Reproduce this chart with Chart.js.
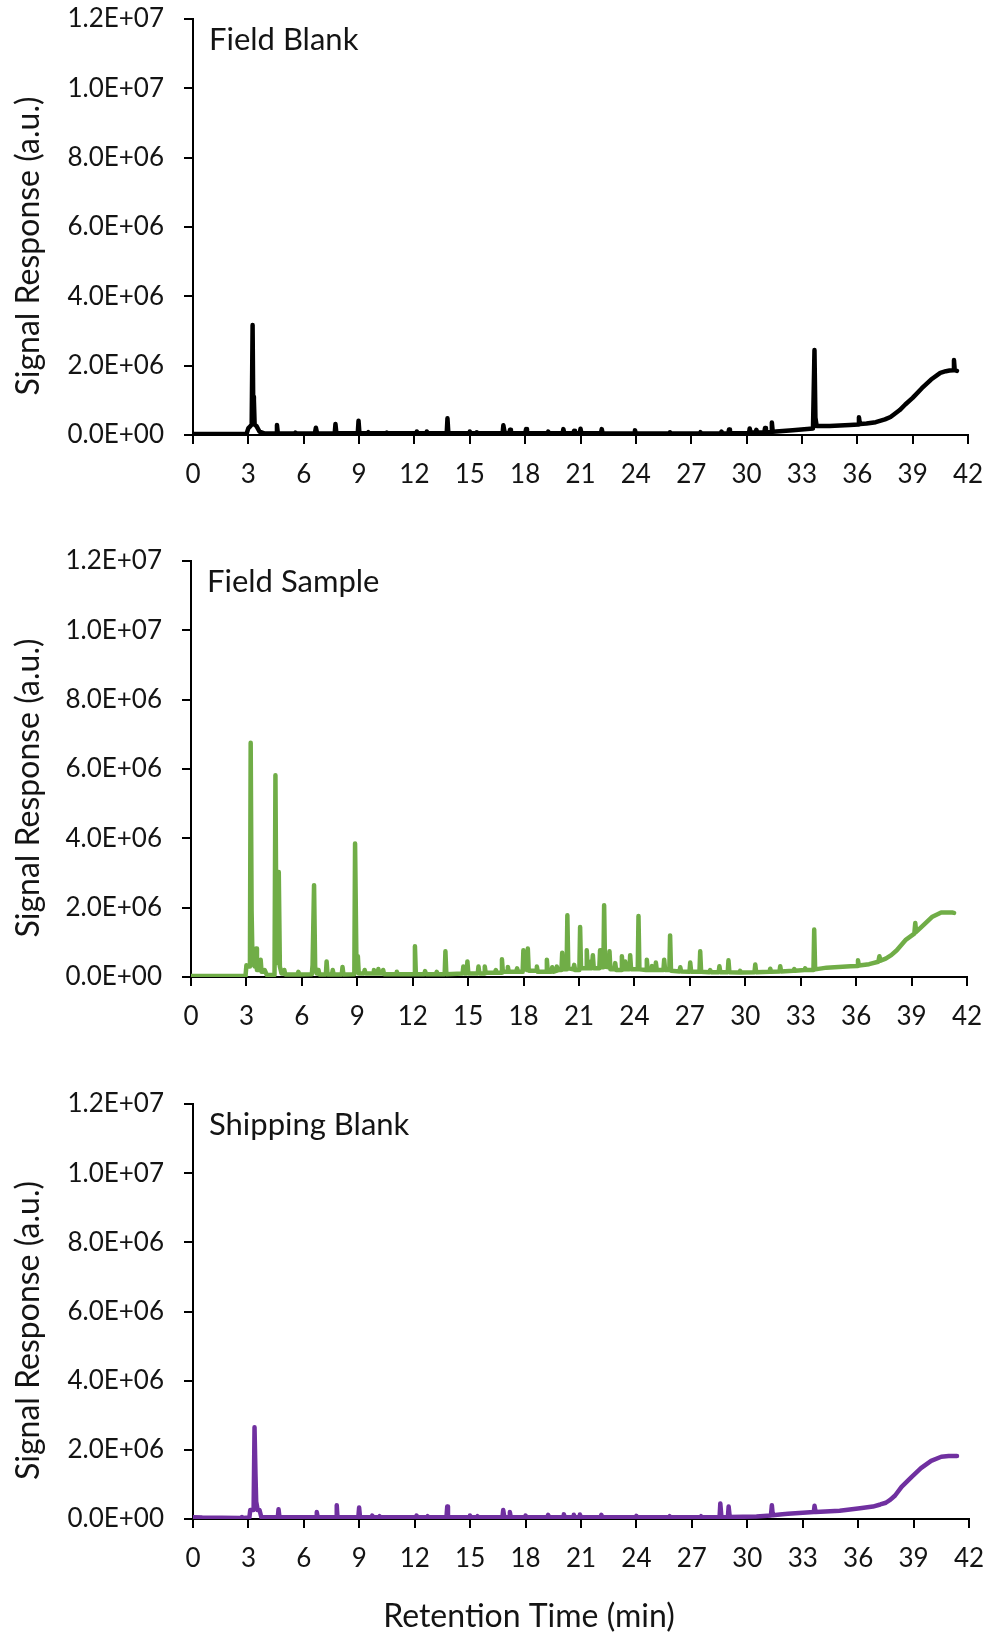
<!DOCTYPE html>
<html>
<head>
<meta charset="utf-8">
<script src="https://cdn.jsdelivr.net/npm/chart.js@4.4.1/dist/chart.umd.min.js"></script>
<style>
html, body { margin: 0; padding: 0; background: #ffffff; }
#wrap { position: relative; width: 989px; height: 1638px; overflow: hidden; background: #ffffff; }
.panel { position: absolute; left: 0; width: 989px; }
canvas { display: block; }
</style>
</head>
<body>
<div id="wrap">
  <div class="panel" style="top:0px;height:520px"><canvas id="c1" width="989" height="520"></canvas></div>
  <div class="panel" style="top:520px;height:520px"><canvas id="c2" width="989" height="520"></canvas></div>
  <div class="panel" style="top:1040px;height:598px"><canvas id="c3" width="989" height="598"></canvas></div>
</div>
<script>
// ---------------- DATA ----------------
const xTickValues = [0, 3, 6, 9, 12, 15, 18, 21, 24, 27, 30, 33, 36, 39, 42];
const yTickValues = [0, 2e6, 4e6, 6e6, 8e6, 10e6, 12e6];
const panelNames = ['Field Blank', 'Field Sample', 'Shipping Blank'];
const yAxisTitle = 'Signal Response (a.u.)';
const xAxisTitle = 'Retention Time (min)';

// [retention time (min), signal (a.u.)]
const fieldBlank = [
  [0,0.03e6],[2.9,0.03e6],[3.0,0.2e6],[3.1,0.25e6],[3.18,0.3e6],[3.23,3.17e6],[3.26,1.1e6],[3.3,1.0e6],
  [3.34,0.3e6],[3.45,0.25e6],[3.6,0.1e6],[3.9,0.04e6],
  [4.51,0.04e6],[4.55,0.29e6],[4.6,0.04e6],
  [5.51,0.04e6],[5.55,0.07e6],[5.6,0.04e6],
  [6.6,0.04e6],[6.66,0.21e6],[6.73,0.04e6],
  [7.68,0.04e6],[7.72,0.32e6],[7.77,0.05e6],
  [8.93,0.05e6],[8.97,0.41e6],[9.02,0.05e6],
  [9.45,0.05e6],[9.5,0.08e6],[9.55,0.05e6],
  [10.45,0.05e6],[10.5,0.07e6],[10.55,0.05e6],
  [12.09,0.05e6],[12.13,0.1e6],[12.18,0.05e6],
  [12.63,0.05e6],[12.67,0.1e6],[12.72,0.05e6],
  [13.75,0.05e6],[13.79,0.48e6],[13.84,0.05e6],
  [14.96,0.05e6],[15.0,0.1e6],[15.05,0.05e6],
  [15.34,0.05e6],[15.38,0.08e6],[15.43,0.05e6],
  [16.78,0.05e6],[16.82,0.28e6],[16.88,0.1e6],[16.95,0.05e6],
  [17.14,0.05e6],[17.18,0.15e6],[17.23,0.05e6],
  [18.01,0.05e6],[18.05,0.17e6],[18.1,0.05e6],
  [19.21,0.05e6],[19.25,0.1e6],[19.3,0.05e6],
  [20.03,0.05e6],[20.07,0.17e6],[20.12,0.05e6],
  [20.61,0.05e6],[20.65,0.12e6],[20.7,0.05e6],
  [20.96,0.05e6],[21.0,0.18e6],[21.05,0.05e6],
  [22.11,0.05e6],[22.15,0.17e6],[22.2,0.05e6],
  [23.91,0.04e6],[23.95,0.14e6],[24.0,0.04e6],
  [25.81,0.04e6],[25.85,0.08e6],[25.9,0.04e6],
  [27.46,0.04e6],[27.5,0.08e6],[27.55,0.04e6],
  [28.6,0.04e6],[28.64,0.1e6],[28.69,0.04e6],
  [29.01,0.04e6],[29.05,0.16e6],[29.1,0.05e6],
  [30.13,0.05e6],[30.17,0.19e6],[30.22,0.07e6],
  [30.49,0.07e6],[30.53,0.15e6],[30.58,0.07e6],
  [30.96,0.07e6],[31.0,0.2e6],[31.05,0.08e6],
  [31.33,0.09e6],[31.37,0.36e6],[31.42,0.09e6],
  [31.6,0.1e6],[32.5,0.14e6],[33.6,0.19e6],[33.68,2.45e6],[33.73,0.5e6],[33.8,0.26e6],
  [34.5,0.26e6],[35.6,0.29e6],[36.05,0.3e6],[36.09,0.51e6],[36.14,0.32e6],[36.5,0.33e6],
  [37.0,0.37e6],[37.5,0.45e6],[37.8,0.52e6],[38.0,0.6e6],[38.3,0.72e6],[38.6,0.88e6],[39.0,1.07e6],
  [39.5,1.35e6],[40.0,1.6e6],[40.5,1.79e6],[40.8,1.84e6],[41.0,1.86e6],[41.2,1.87e6],
  [41.24,2.16e6],[41.28,1.87e6],[41.4,1.85e6]
];

const fieldSample = [
  [0,0.03e6],[2.95,0.03e6],[3.0,0.34e6],[3.1,0.3e6],[3.19,0.3e6],[3.23,6.76e6],[3.28,1.9e6],[3.33,0.4e6],
  [3.45,0.3e6],[3.49,0.3e6],[3.52,0.82e6],[3.57,0.2e6],[3.73,0.2e6],[3.77,0.5e6],[3.82,0.15e6],
  [3.95,0.15e6],[3.99,0.2e6],[4.1,0.06e6],
  [4.52,0.06e6],[4.57,5.82e6],[4.63,0.4e6],[4.7,0.5e6],[4.75,3.03e6],[4.81,0.3e6],[4.9,0.1e6],
  [5.01,0.1e6],[5.05,0.2e6],[5.1,0.07e6],
  [5.77,0.07e6],[5.81,0.15e6],[5.86,0.07e6],
  [6.54,0.08e6],[6.58,0.35e6],[6.66,2.65e6],[6.72,0.3e6],[6.8,0.1e6],[6.86,0.1e6],[6.9,0.2e6],[6.95,0.07e6],
  [7.3,0.07e6],[7.34,0.45e6],[7.39,0.07e6],
  [7.63,0.07e6],[7.67,0.2e6],[7.72,0.07e6],
  [8.16,0.07e6],[8.2,0.29e6],[8.25,0.07e6],
  [8.84,0.08e6],[8.88,3.85e6],[8.95,0.6e6],[9.03,0.6e6],[9.08,0.1e6],
  [9.36,0.1e6],[9.4,0.2e6],[9.45,0.1e6],
  [9.86,0.1e6],[9.9,0.2e6],[9.95,0.1e6],
  [10.1,0.1e6],[10.14,0.23e6],[10.19,0.1e6],
  [10.36,0.1e6],[10.4,0.2e6],[10.45,0.08e6],
  [11.1,0.08e6],[11.14,0.15e6],[11.19,0.08e6],
  [12.08,0.08e6],[12.12,0.89e6],[12.17,0.08e6],
  [12.63,0.08e6],[12.67,0.17e6],[12.72,0.08e6],
  [13.26,0.08e6],[13.3,0.15e6],[13.35,0.08e6],
  [13.73,0.08e6],[13.77,0.74e6],[13.82,0.08e6],
  [14.7,0.1e6],[14.74,0.3e6],[14.79,0.1e6],
  [14.92,0.1e6],[14.96,0.45e6],[15.01,0.1e6],
  [15.52,0.1e6],[15.56,0.3e6],[15.61,0.1e6],
  [15.86,0.1e6],[15.9,0.3e6],[15.95,0.12e6],
  [16.45,0.12e6],[16.5,0.2e6],[16.55,0.12e6],
  [16.79,0.12e6],[16.83,0.51e6],[16.88,0.15e6],
  [17.11,0.15e6],[17.15,0.29e6],[17.2,0.15e6],
  [17.6,0.15e6],[17.65,0.25e6],[17.7,0.15e6],
  [17.95,0.15e6],[17.99,0.77e6],[18.05,0.25e6],[18.19,0.2e6],[18.23,0.82e6],[18.28,0.18e6],
  [18.68,0.18e6],[18.72,0.3e6],[18.77,0.15e6],
  [19.22,0.15e6],[19.26,0.5e6],[19.31,0.15e6],
  [19.5,0.15e6],[19.55,0.28e6],[19.6,0.15e6],
  [19.76,0.18e6],[19.8,0.3e6],[19.85,0.2e6],
  [20.05,0.2e6],[20.09,0.7e6],[20.14,0.22e6],[20.33,0.22e6],[20.37,1.78e6],[20.42,0.25e6],
  [20.7,0.22e6],[20.74,0.35e6],[20.79,0.2e6],
  [21.02,0.2e6],[21.06,1.44e6],[21.11,0.25e6],
  [21.38,0.25e6],[21.42,0.77e6],[21.47,0.25e6],
  [21.6,0.25e6],[21.65,0.45e6],[21.69,0.25e6],[21.75,0.63e6],[21.8,0.25e6],
  [22.1,0.25e6],[22.14,0.77e6],[22.19,0.28e6],[22.32,0.28e6],[22.36,2.07e6],[22.41,0.3e6],
  [22.61,0.28e6],[22.65,0.74e6],[22.7,0.22e6],
  [22.92,0.22e6],[22.96,0.4e6],[23.01,0.2e6],
  [23.28,0.2e6],[23.32,0.6e6],[23.37,0.22e6],[23.46,0.22e6],[23.5,0.45e6],[23.55,0.22e6],
  [23.73,0.22e6],[23.77,0.63e6],[23.82,0.22e6],
  [24.18,0.22e6],[24.22,1.76e6],[24.27,0.22e6],
  [24.63,0.2e6],[24.67,0.5e6],[24.72,0.2e6],
  [24.9,0.2e6],[24.95,0.32e6],[25.0,0.2e6],
  [25.12,0.2e6],[25.16,0.42e6],[25.21,0.2e6],
  [25.57,0.2e6],[25.61,0.5e6],[25.66,0.2e6],
  [25.89,0.2e6],[25.93,1.2e6],[25.98,0.18e6],
  [26.44,0.16e6],[26.48,0.28e6],[26.53,0.16e6],
  [26.98,0.15e6],[27.02,0.42e6],[27.07,0.15e6],
  [27.52,0.15e6],[27.56,0.74e6],[27.61,0.15e6],
  [28.06,0.14e6],[28.1,0.2e6],[28.15,0.14e6],
  [28.56,0.14e6],[28.6,0.31e6],[28.65,0.14e6],
  [29.05,0.14e6],[29.09,0.48e6],[29.14,0.14e6],
  [29.68,0.13e6],[29.72,0.18e6],[29.77,0.13e6],
  [30.5,0.14e6],[30.54,0.36e6],[30.59,0.14e6],
  [31.31,0.15e6],[31.35,0.24e6],[31.4,0.15e6],
  [31.85,0.16e6],[31.89,0.31e6],[31.94,0.16e6],
  [32.6,0.18e6],[32.65,0.23e6],[32.7,0.18e6],
  [33.2,0.2e6],[33.24,0.25e6],[33.29,0.2e6],
  [33.69,0.2e6],[33.73,1.37e6],[33.78,0.22e6],
  [34.4,0.27e6],[35.7,0.31e6],[36.06,0.32e6],[36.1,0.48e6],[36.15,0.33e6],[36.7,0.37e6],
  [37.2,0.44e6],[37.26,0.6e6],[37.32,0.47e6],[37.6,0.53e6],[37.9,0.63e6],[38.2,0.77e6],[38.7,1.08e6],
  [39.15,1.25e6],[39.2,1.56e6],[39.25,1.3e6],[39.57,1.46e6],[40.1,1.73e6],[40.6,1.86e6],
  [41.2,1.86e6],[41.3,1.85e6]
];

const shippingBlank = [
  [0,0.05e6],[0.5,0.04e6],[2.6,0.03e6],[2.65,0.06e6],[2.7,0.03e6],[3.05,0.04e6],[3.1,0.26e6],[3.28,0.26e6],
  [3.33,2.65e6],[3.38,1.32e6],[3.42,0.5e6],[3.5,0.26e6],[3.6,0.26e6],[3.7,0.05e6],
  [4.59,0.05e6],[4.63,0.28e6],[4.68,0.05e6],
  [6.66,0.05e6],[6.7,0.2e6],[6.75,0.05e6],
  [7.74,0.05e6],[7.78,0.4e6],[7.82,0.05e6],
  [8.95,0.05e6],[8.99,0.33e6],[9.04,0.05e6],
  [9.66,0.05e6],[9.7,0.1e6],[9.75,0.05e6],
  [10.06,0.05e6],[10.1,0.08e6],[10.15,0.05e6],
  [12.06,0.05e6],[12.1,0.1e6],[12.15,0.05e6],
  [12.66,0.05e6],[12.7,0.08e6],[12.75,0.05e6],
  [13.72,0.05e6],[13.76,0.36e6],[13.8,0.05e6],
  [14.95,0.05e6],[14.99,0.1e6],[15.04,0.05e6],
  [15.36,0.05e6],[15.4,0.08e6],[15.45,0.05e6],
  [16.75,0.05e6],[16.79,0.26e6],[16.85,0.05e6],
  [17.11,0.05e6],[17.15,0.2e6],[17.2,0.05e6],
  [17.96,0.05e6],[18.0,0.1e6],[18.05,0.05e6],
  [19.18,0.05e6],[19.22,0.12e6],[19.27,0.05e6],
  [20.03,0.05e6],[20.07,0.14e6],[20.12,0.05e6],
  [20.57,0.05e6],[20.61,0.12e6],[20.66,0.05e6],
  [20.9,0.05e6],[20.94,0.13e6],[21.0,0.05e6],
  [22.06,0.05e6],[22.1,0.12e6],[22.15,0.05e6],
  [23.96,0.05e6],[24.0,0.09e6],[24.05,0.05e6],
  [25.76,0.05e6],[25.8,0.08e6],[25.85,0.05e6],
  [27.46,0.05e6],[27.5,0.08e6],[27.55,0.05e6],
  [28.5,0.05e6],[28.54,0.45e6],[28.6,0.05e6],
  [28.95,0.05e6],[28.99,0.36e6],[29.05,0.06e6],
  [30.5,0.07e6],[31.28,0.1e6],[31.33,0.4e6],[31.38,0.11e6],[31.9,0.14e6],[32.2,0.15e6],
  [33.6,0.2e6],[33.64,0.38e6],[33.7,0.2e6],[35.0,0.24e6],[36.1,0.31e6],[36.8,0.36e6],
  [37.2,0.42e6],[37.5,0.47e6],[37.75,0.56e6],[38.0,0.68e6],[38.35,0.93e6],[38.9,1.22e6],
  [39.4,1.47e6],[39.95,1.68e6],[40.5,1.8e6],[40.9,1.82e6],[41.2,1.82e6],[41.35,1.82e6]
];

const seriesColors = ['#000000', '#70AD47', '#7030A0'];

// ---------------- LAYOUT / STYLE ----------------
const FONT = 'Lato, "Open Sans", "Liberation Sans", sans-serif';
const TEXT_COLOR = '#141414';
const panels = [
  { id: 'c1', h: 520, left: 193, top: 19, right: 968, bottom: 435, data: fieldBlank, xTitle: false },
  { id: 'c2', h: 520, left: 191, top: 41, right: 967, bottom: 457, data: fieldSample, xTitle: false },
  { id: 'c3', h: 598, left: 193, top: 64, right: 969, bottom: 479, data: shippingBlank, xTitle: true }
];

function sci(v) {
  if (v === 0) return '0.0E+00';
  const e = Math.floor(Math.log10(v) + 1e-9);
  const m = v / Math.pow(10, e);
  return m.toFixed(1) + 'E+' + String(e).padStart(2, '0');
}

const panelText = {
  id: 'panelText',
  afterDraw(chart, args, opts) {
    const { ctx, chartArea } = chart;
    ctx.save();
    ctx.fillStyle = TEXT_COLOR;
    ctx.font = '31px ' + FONT;
    ctx.textAlign = 'left';
    ctx.textBaseline = 'alphabetic';
    ctx.fillText(opts.label, chartArea.left + 16, chartArea.top + 31);
    ctx.save();
    ctx.translate(29, (chartArea.top + chartArea.bottom) / 2 + 19);
    ctx.rotate(-Math.PI / 2);
    ctx.textAlign = 'center';
    ctx.textBaseline = 'middle';
    ctx.font = '32px ' + FONT;
    ctx.fillText(yAxisTitle, 0, 0);
    ctx.restore();
    if (opts.xTitle) {
      ctx.textAlign = 'center';
      ctx.textBaseline = 'middle';
      ctx.font = '32px ' + FONT;
      ctx.fillText(xAxisTitle, 529, chart.height - 21);
    }
    ctx.restore();
  }
};

panels.forEach((p, i) => {
  const ctx = document.getElementById(p.id).getContext('2d');
  new Chart(ctx, {
    type: 'scatter',
    data: {
      datasets: [{
        label: panelNames[i],
        data: p.data.map(([x, y]) => ({ x, y })),
        showLine: true,
        borderColor: seriesColors[i],
        backgroundColor: seriesColors[i],
        borderWidth: 4.5,
        borderJoinStyle: 'round',
        borderCapStyle: 'round',
        pointRadius: 0,
        tension: 0,
        fill: false
      }]
    },
    options: {
      responsive: false,
      animation: false,
      devicePixelRatio: 1,
      layout: { padding: { top: p.top, right: 989 - p.right, left: 0, bottom: 0 } },
      plugins: {
        legend: { display: false },
        tooltip: { enabled: false },
        panelText: { label: panelNames[i], xTitle: p.xTitle }
      },
      scales: {
        x: {
          type: 'linear',
          min: 0,
          max: 42,
          afterBuildTicks: (s) => { s.ticks = xTickValues.map(v => ({ value: v })); },
          afterFit: (s) => { s.height = p.h - p.bottom; s.paddingLeft = 0; s.paddingRight = 0; },
          grid: { display: true, drawOnChartArea: false, drawTicks: true, tickLength: 9, color: '#000', lineWidth: 2 },
          border: { display: true, color: '#000', width: 2 },
          ticks: { autoSkip: false, maxRotation: 0, padding: 15, color: TEXT_COLOR, font: { family: FONT, size: 26 } }
        },
        y: {
          type: 'linear',
          min: 0,
          max: 12e6,
          afterBuildTicks: (s) => { s.ticks = yTickValues.map(v => ({ value: v })); },
          afterFit: (s) => { s.width = p.left; s.paddingTop = 0; s.paddingBottom = 0; },
          grid: { display: true, drawOnChartArea: false, drawTicks: true, tickLength: 9, color: '#000', lineWidth: 2 },
          border: { display: true, color: '#000', width: 2 },
          ticks: { autoSkip: false, padding: 20, color: TEXT_COLOR, font: { family: FONT, size: 26 }, callback: (v) => sci(v) }
        }
      }
    },
    plugins: [panelText]
  });
});
</script>
</body>
</html>
